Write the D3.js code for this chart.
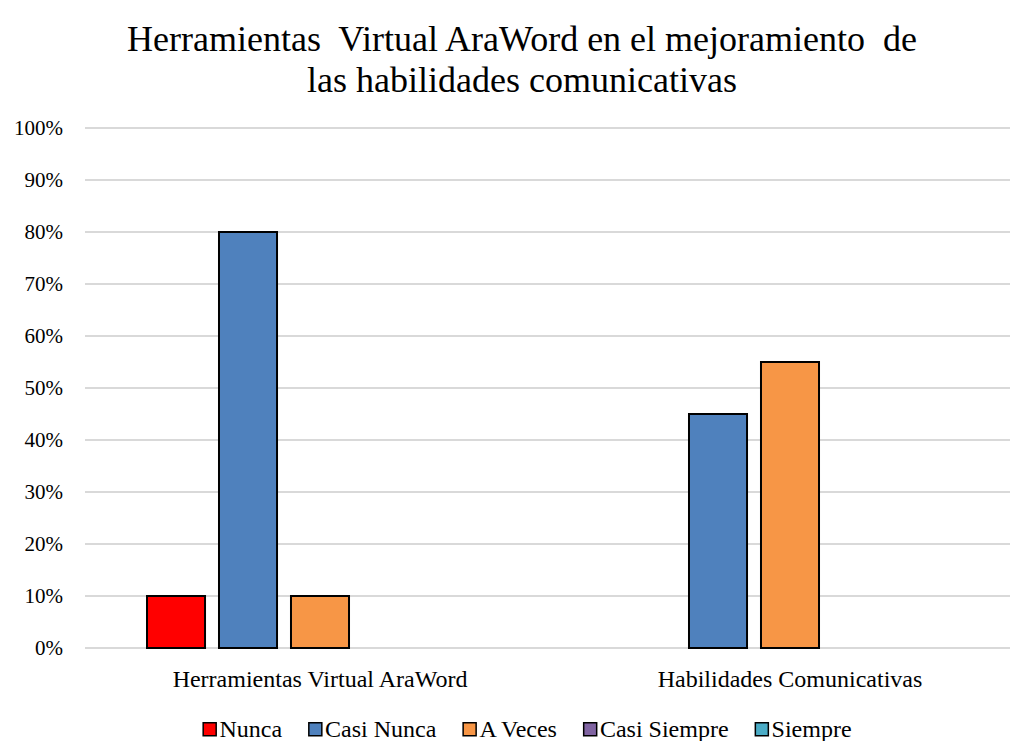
<!DOCTYPE html>
<html>
<head>
<meta charset="utf-8">
<script src="https://cdn.jsdelivr.net/npm/d3@7"></script>
<style>
  body { margin: 0; background: #fff; }
  svg text { font-family: 'Liberation Serif'; fill: #000; }
</style>
</head>
<body>
<div id="chart"></div>
<script>
// data
var categories = ["Herramientas Virtual AraWord", "Habilidades Comunicativas"];
var seriesNames = ["Nunca", "Casi Nunca", "A Veces", "Casi Siempre", "Siempre"];
var seriesColors = ["#FF0000", "#4F81BD", "#F79646", "#8064A2", "#4BACC6"];
var valuesNunca = [0.10, 0];
var valuesCasiNunca = [0.80, 0.45];
var valuesAVeces = [0.10, 0.55];
var valuesCasiSiempre = [0, 0];
var valuesSiempre = [0, 0];
var yTicks = [0, 0.1, 0.2, 0.3, 0.4, 0.5, 0.6, 0.7, 0.8, 0.9, 1.0];
var titleLines = ["Herramientas  Virtual AraWord en el mejoramiento  de", "las habilidades comunicativas"];

var allValues = [valuesNunca, valuesCasiNunca, valuesAVeces, valuesCasiSiempre, valuesSiempre];

var serif = "'Liberation Serif'";
var width = 1010, height = 741;
var plotLeft = 85, plotRight = 1025, plotTop = 128, plotBottom = 648;

var svg = d3.select("#chart").append("svg")
  .attr("width", width)
  .attr("height", height);

// title
titleLines.forEach(function(line, i) {
  svg.append("text")
    .attr("x", 522)
    .attr("y", 51 + i * 41)
    .attr("text-anchor", "middle")
    .style("font-family", serif)
    .style("font-size", "36px")
    .style("white-space", "pre")
    .text(line);
});

var y = d3.scaleLinear().domain([0, 1]).range([plotBottom, plotTop]);
var x0 = d3.scaleBand().domain(categories).range([plotLeft, plotRight]);
var x1 = d3.scaleBand().domain(seriesNames)
  .range([62, x0.bandwidth() - 62])
  .paddingInner(0.194);

// gridlines
svg.append("g").selectAll("line")
  .data(yTicks)
  .enter().append("line")
  .attr("x1", plotLeft)
  .attr("x2", width)
  .attr("y1", function(d) { return y(d); })
  .attr("y2", function(d) { return y(d); })
  .style("stroke", "#d9d9d9")
  .style("stroke-width", 2);

// y axis labels
var yAxis = d3.axisLeft(y).tickValues(yTicks).tickFormat(d3.format(".0%")).tickSize(0).tickPadding(0);
var gy = svg.append("g").attr("transform", "translate(63,0)").call(yAxis);
gy.attr("font-family", null).attr("font-size", null);
gy.select(".domain").remove();
gy.selectAll("text")
  .style("font-size", "21px")
  .style("font-family", serif)
  .attr("fill", "#000");

// bars
var group = svg.selectAll(".group")
  .data(categories)
  .enter().append("g")
  .attr("class", "group")
  .attr("transform", function(d) { return "translate(" + x0(d) + ",0)"; });

group.selectAll("rect")
  .data(function(d, i) {
    return seriesNames.map(function(s, j) { return { series: s, value: allValues[j][i], color: seriesColors[j] }; });
  })
  .enter().filter(function(d) { return d.value > 0; })
  .append("rect")
  .attr("x", function(d) { return x1(d.series); })
  .attr("width", x1.bandwidth())
  .attr("y", function(d) { return y(d.value); })
  .attr("height", function(d) { return y(0) - y(d.value); })
  .style("fill", function(d) { return d.color; })
  .style("stroke", "#000")
  .style("stroke-width", 2);

// category labels
var xAxis = d3.axisBottom(x0).tickSize(0).tickPadding(0);
var gx = svg.append("g").attr("transform", "translate(0,687)").call(xAxis);
gx.attr("font-family", null).attr("font-size", null);
gx.select(".domain").remove();
gx.selectAll("text")
  .attr("y", 0)
  .attr("dy", 0)
  .style("font-size", "24px")
  .style("font-family", serif)
  .attr("fill", "#000");

// legend
var legend = svg.append("g");
var lx = 0;
seriesNames.forEach(function(s, i) {
  var item = legend.append("g").attr("transform", "translate(" + lx + ",0)");
  item.append("rect")
    .attr("x", 0.75).attr("y", -14.25)
    .attr("width", 13).attr("height", 13)
    .style("fill", seriesColors[i])
    .style("stroke", "#000")
    .style("stroke-width", 1.5);
  var t = item.append("text")
    .attr("x", 17)
    .attr("y", 0)
    .style("font-family", serif)
    .style("font-size", "24px")
    .text(s);
  lx += 17 + t.node().getComputedTextLength() + 26;
});
var legendWidth = lx - 26;
legend.attr("transform", "translate(" + (527 - legendWidth / 2) + ",737)");
</script>
</body>
</html>
